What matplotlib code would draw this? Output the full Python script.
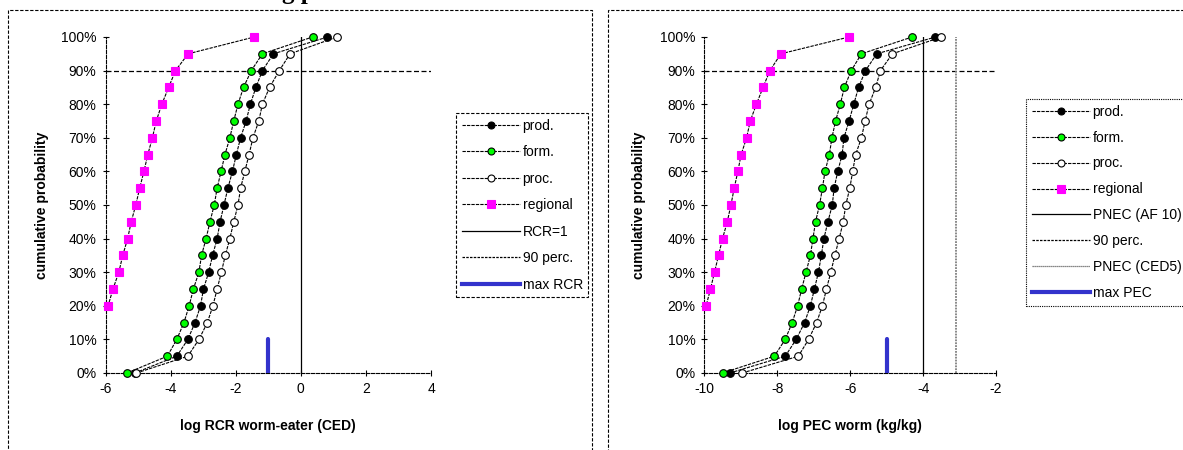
import numpy as np
import matplotlib
matplotlib.use("Agg")
import matplotlib.pyplot as plt
from matplotlib.lines import Line2D
from matplotlib.patches import Rectangle

plt.rcParams['font.family'] = ['Liberation Sans', 'DejaVu Sans']

# ---------------- data ----------------
cum_prob = [0, 5, 10, 15, 20, 25, 30, 35, 40, 45, 50, 55, 60, 65, 70, 75, 80, 85, 90, 95, 100]
y_ticks = [0, 10, 20, 30, 40, 50, 60, 70, 80, 90, 100]
y_tick_labels = ["0%", "10%", "20%", "30%", "40%", "50%", "60%", "70%", "80%", "90%", "100%"]

# Left panel: log RCR worm-eater (CED)
rcr_prod = [-5.10, -3.81, -3.47, -3.25, -3.08, -2.99, -2.83, -2.71, -2.57, -2.48, -2.36,
            -2.24, -2.10, -1.98, -1.85, -1.68, -1.55, -1.38, -1.18, -0.84, 0.82]
rcr_form = [-5.34, -4.10, -3.81, -3.59, -3.43, -3.30, -3.13, -3.05, -2.91, -2.79, -2.66,
            -2.57, -2.45, -2.33, -2.18, -2.06, -1.93, -1.76, -1.52, -1.18, 0.36]
rcr_proc = [-5.05, -3.47, -3.13, -2.87, -2.70, -2.57, -2.44, -2.32, -2.18, -2.06, -1.93,
            -1.85, -1.72, -1.59, -1.47, -1.29, -1.18, -0.96, -0.66, -0.33, 1.11]
rcr_regional = [-7.00, -6.60, -6.35, -6.12, -5.92, -5.77, -5.59, -5.47, -5.32, -5.21, -5.07,
                -4.95, -4.82, -4.70, -4.56, -4.44, -4.27, -4.06, -3.85, -3.46, -1.43]
rcr_one = 0.0
max_rcr = -1.0
rcr_xticks = [-6, -4, -2, 0, 2, 4]

# Right panel: log PEC worm (kg/kg)
pec_prod = [-9.30, -7.78, -7.48, -7.25, -7.09, -6.98, -6.87, -6.79, -6.72, -6.61, -6.49,
            -6.44, -6.34, -6.22, -6.17, -6.03, -5.90, -5.77, -5.58, -5.27, -3.66]
pec_form = [-9.50, -8.08, -7.78, -7.59, -7.44, -7.33, -7.21, -7.09, -7.02, -6.95, -6.84,
            -6.76, -6.69, -6.57, -6.50, -6.40, -6.27, -6.16, -5.97, -5.69, -4.30]
pec_proc = [-8.96, -7.42, -7.14, -6.92, -6.76, -6.65, -6.53, -6.42, -6.30, -6.19, -6.12,
            -6.01, -5.93, -5.85, -5.69, -5.59, -5.48, -5.30, -5.17, -4.84, -3.50]
pec_regional = [-11.00, -10.55, -10.30, -10.11, -9.95, -9.83, -9.72, -9.61, -9.50, -9.37, -9.27,
                -9.18, -9.08, -8.99, -8.84, -8.74, -8.57, -8.39, -8.20, -7.90, -6.03]
pnec_af10 = -4.0
pnec_ced5 = -3.1
max_pec = -5.0
pec_xticks = [-10, -8, -6, -4, -2]

perc90 = 90
max_level = 10

GREEN = '#00FF00'
MAGENTA = '#FF00FF'
BLUE = '#3333CC'
SERIES_LS = (0, (3, 1))

fig = plt.figure(figsize=(11.83, 4.5), dpi=100)

# panel borders
for (x0, x1) in [(8, 592), (608, 1195)]:
    fig.patches.append(Rectangle((x0 / 1183, -0.1), (x1 - x0) / 1183, 1.1 - 10 / 450,
                                 transform=fig.transFigure, fill=False,
                                 edgecolor='black', lw=0.8, linestyle=(0, (3, 1.5)),
                                 clip_on=False))

# partially visible title (only descenders shown)
fig.text(298 / 1183, 1 + 1 / 450, "g p", family=['Liberation Serif', 'DejaVu Serif'],
         fontsize=18, fontweight='bold', ha='center', va='baseline')


def series(ax, xs, ys, marker, face, ms, label):
    xs = np.asarray(xs)
    ys = np.asarray(ys)
    ax.plot(xs, ys, color='black', lw=0.8, linestyle=SERIES_LS, zorder=3)
    lo, hi = ax.get_xlim()
    m = (xs >= lo) & (xs <= hi)
    ax.plot(xs[m], ys[m], linestyle='none', marker=marker, markerfacecolor=face,
            markeredgecolor=face if marker == 's' else 'black', markeredgewidth=0.8,
            markersize=ms, clip_on=False, zorder=5)
    return Line2D([], [], color='black', lw=0.8, linestyle=SERIES_LS, marker=marker,
                  markerfacecolor=face, markeredgecolor=face if marker == 's' else 'black',
                  markersize=ms - 0.5, markeredgewidth=0.8, label=label)


def style_axes(ax, xlim, xticks, xlabel, ylab_x):
    ax.set_xlim(*xlim)
    ax.set_ylim(0, 100)
    ax.set_xticks(xticks)
    ax.set_xticklabels([str(t) for t in xticks])
    ax.set_yticks(y_ticks)
    ax.set_yticklabels(y_tick_labels)
    for s in ['top', 'right']:
        ax.spines[s].set_visible(False)
    for s in ['left', 'bottom']:
        ax.spines[s].set_linestyle((0, (3, 1.5)))
        ax.spines[s].set_linewidth(0.8)
    ax.tick_params(direction='inout', length=5, width=0.8, labelsize=10, pad=4)
    ax.set_xlabel(xlabel, fontsize=10, fontweight='bold')
    ax.xaxis.set_label_coords(0.5, -0.137)
    ax.set_ylabel("cumulative probability", fontsize=10, fontweight='bold')
    ax.yaxis.set_label_coords(ylab_x, 0.5)
    ax.set_facecolor('none')


# ---------------- left panel ----------------
axL = fig.add_axes([105.5 / 1183, 1 - 373 / 450, 325.5 / 1183, 336 / 450])
style_axes(axL, (-6, 4), rcr_xticks, "log RCR worm-eater (CED)", -0.175)
hL = []
axL.axhline(perc90, color='black', lw=0.9, linestyle=(0, (4, 2)), zorder=2)
axL.plot([rcr_one, rcr_one], [0, 100], color='black', lw=0.9, zorder=2)
axL.plot([max_rcr, max_rcr], [0, max_level], color=BLUE, lw=3, zorder=4, solid_capstyle='round')
hL.append(series(axL, rcr_prod, cum_prob, 'o', 'black', 5.5, 'prod.'))
hL.append(series(axL, rcr_form, cum_prob, 'o', GREEN, 5.5, 'form.'))
hL.append(series(axL, rcr_proc, cum_prob, 'o', 'white', 5.5, 'proc.'))
hL.append(series(axL, rcr_regional, cum_prob, 's', MAGENTA, 6, 'regional'))
hL.append(Line2D([], [], color='black', lw=0.9, label='RCR=1'))
hL.append(Line2D([], [], color='black', lw=0.9, linestyle=(0, (2, 1)), label='90 perc.'))
hL.append(Line2D([], [], color=BLUE, lw=3, label='max RCR'))
legL = fig.legend(handles=hL, loc='upper left', bbox_to_anchor=(456 / 1183, 1 - 113 / 450),
                  fontsize=10, handlelength=4.2, handletextpad=0.2, labelspacing=0.9,
                  borderpad=0.4, borderaxespad=0, fancybox=False, framealpha=1)
legL.get_frame().set_edgecolor('black')
legL.get_frame().set_linewidth(0.8)
legL.get_frame().set_linestyle((0, (3, 1.5)))

# ---------------- right panel ----------------
axR = fig.add_axes([704.3 / 1183, 1 - 373 / 450, 291.7 / 1183, 336 / 450])
style_axes(axR, (-10, -2), pec_xticks, "log PEC worm (kg/kg)", -0.199)
hR = []
axR.axhline(perc90, color='black', lw=0.9, linestyle=(0, (4, 2)), zorder=2)
axR.plot([pnec_af10, pnec_af10], [0, 100], color='black', lw=0.9, zorder=2)
axR.plot([pnec_ced5, pnec_ced5], [0, 100], color='#808080', lw=1.3, linestyle=(0, (1, 0.6)), zorder=2)
axR.plot([max_pec, max_pec], [0, max_level], color=BLUE, lw=3, zorder=4, solid_capstyle='round')
hR.append(series(axR, pec_prod, cum_prob, 'o', 'black', 5.5, 'prod.'))
hR.append(series(axR, pec_form, cum_prob, 'o', GREEN, 5.5, 'form.'))
hR.append(series(axR, pec_proc, cum_prob, 'o', 'white', 5.5, 'proc.'))
hR.append(series(axR, pec_regional, cum_prob, 's', MAGENTA, 6, 'regional'))
hR.append(Line2D([], [], color='black', lw=0.9, label='PNEC (AF 10)'))
hR.append(Line2D([], [], color='black', lw=0.9, linestyle=(0, (2, 1)), label='90 perc.'))
hR.append(Line2D([], [], color='#606060', lw=0.9, linestyle=(0, (1, 0.6)), label='PNEC (CED5)'))
hR.append(Line2D([], [], color=BLUE, lw=3, label='max PEC'))
legR = fig.legend(handles=hR, loc='upper left', bbox_to_anchor=(1026 / 1183, 1 - 99 / 450),
                  fontsize=10, handlelength=4.2, handletextpad=0.2, labelspacing=0.86,
                  borderpad=0.4, borderaxespad=0, fancybox=False, framealpha=1)
legR.get_frame().set_edgecolor('black')
legR.get_frame().set_linewidth(0.8)
legR.get_frame().set_linestyle((0, (1, 1)))

fig.savefig("out.png", dpi=100)
